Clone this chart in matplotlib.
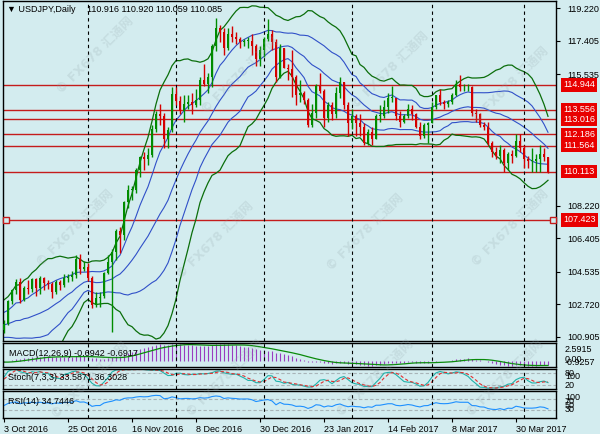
import numpy as np
import pandas as pd
import matplotlib
matplotlib.use('Agg')
import matplotlib.pyplot as plt
import matplotlib.transforms as mtransforms

plt.rcParams['font.family'] = ['Liberation Sans', 'DejaVu Sans']

# USDJPY daily bars, 3 Oct 2016 .. 11 Apr 2017 (one value per bar)
opens = [101.30, 101.65, 102.90, 103.50, 103.95, 102.95, 103.65, 103.55, 104.15, 103.65,
         104.20, 103.90, 103.85, 103.40, 103.95, 103.80, 104.20, 104.25, 104.35, 105.25,
         104.70, 104.80, 104.20, 102.70, 103.10, 103.20, 104.45, 105.10, 105.65, 106.80,
         106.60, 108.40, 109.10, 109.10, 110.20, 110.90, 110.80, 111.05, 112.50, 113.30,
         113.20, 111.90, 112.40, 114.45, 114.05, 113.50, 113.90, 114.00, 113.80, 114.10,
         115.20, 115.00, 115.40, 117.10, 118.10, 117.90, 117.00, 117.80, 117.60, 117.50,
         117.30, 117.40, 117.40, 117.10, 116.40, 116.90, 117.50, 117.80, 117.30, 115.40,
         117.00, 115.90, 115.80, 115.40, 114.40, 114.50, 114.10, 112.70, 113.40, 114.90,
         114.60, 113.10, 113.80, 113.30, 114.50, 115.10, 113.80, 112.80, 113.20, 112.80,
         112.60, 111.70, 112.30, 111.90, 113.20, 113.20, 113.70, 114.20, 114.20, 113.20,
         112.90, 113.20, 113.60, 113.30, 112.60, 112.10, 112.70, 112.80, 113.70, 114.40,
         114.00, 113.90, 114.00, 114.40, 115.00, 114.80, 114.80, 114.80, 113.40, 113.30,
         112.70, 112.60, 111.70, 111.20, 111.00, 111.30, 110.60, 111.10, 111.00, 111.80,
         111.40, 110.80, 110.70, 110.70, 110.80, 111.10, 110.916]
highs = [101.85, 102.95, 103.55, 104.15, 104.20, 103.75, 104.10, 104.20, 104.20, 104.30,
         104.25, 104.05, 103.95, 104.10, 104.05, 104.40, 104.40, 104.55, 105.45, 105.55,
         105.15, 105.00, 104.30, 103.40, 103.40, 104.50, 105.45, 105.80, 106.90, 107.00,
         108.50, 109.35, 109.30, 110.30, 111.00, 111.20, 111.40, 112.70, 113.50, 113.90,
         113.40, 112.60, 114.80, 114.80, 114.30, 114.40, 114.40, 114.50, 114.70, 115.40,
         116.10, 115.60, 117.20, 118.65, 118.30, 118.10, 118.10, 118.20, 117.90, 117.60,
         117.50, 117.60, 117.80, 117.20, 117.10, 117.60, 118.60, 118.00, 117.50, 117.20,
         117.00, 116.10, 116.90, 115.50, 115.20, 114.60, 114.20, 113.90, 115.00, 115.60,
         114.70, 114.00, 114.00, 114.80, 115.40, 115.10, 114.00, 113.60, 113.30, 113.30,
         112.80, 112.50, 112.60, 113.30, 113.80, 114.10, 114.50, 114.90, 114.20, 113.50,
         113.30, 113.90, 113.80, 113.40, 112.90, 112.80, 112.90, 114.00, 114.40, 114.70,
         114.10, 114.10, 114.50, 115.20, 115.50, 115.00, 115.00, 114.90, 113.60, 113.40,
         112.90, 112.90, 111.80, 111.50, 111.60, 111.40, 111.20, 111.30, 112.20, 112.20,
         111.60, 111.00, 111.40, 111.10, 111.60, 111.40, 110.920]
lows = [101.10, 101.55, 102.75, 103.30, 102.80, 102.90, 103.30, 103.40, 103.20, 103.30,
        103.50, 103.55, 103.10, 103.30, 103.50, 103.70, 103.95, 104.00, 104.20, 104.40,
        104.60, 104.00, 102.50, 102.55, 102.60, 103.10, 104.40, 101.20, 105.20, 105.60,
        106.30, 108.10, 108.55, 108.90, 109.80, 110.20, 110.50, 110.90, 112.30, 112.70,
        111.40, 111.40, 112.30, 113.80, 113.30, 112.90, 113.60, 113.30, 113.70, 113.80,
        114.90, 114.50, 114.80, 116.80, 117.30, 116.60, 116.90, 117.30, 117.20, 117.00,
        117.10, 117.00, 116.60, 116.00, 116.00, 116.50, 117.40, 116.90, 115.10, 115.30,
        115.90, 115.20, 114.25, 113.80, 114.00, 113.90, 112.60, 112.60, 113.10, 114.50,
        112.60, 112.90, 113.00, 113.10, 114.20, 113.60, 112.10, 112.50, 112.10, 112.10,
        111.60, 111.60, 111.60, 111.90, 112.90, 113.10, 113.40, 114.00, 113.00, 112.60,
        112.80, 113.10, 113.00, 112.55, 111.90, 112.00, 111.70, 112.80, 113.60, 113.80,
        113.60, 113.70, 113.90, 114.30, 114.60, 114.60, 114.60, 113.20, 112.90, 112.60,
        112.40, 111.60, 110.90, 110.80, 110.60, 110.10, 110.20, 110.60, 110.90, 111.20,
        110.30, 110.30, 110.10, 110.10, 110.10, 110.70, 110.059]
closes = [101.65, 102.90, 103.50, 103.95, 102.95, 103.65, 103.55, 104.15, 103.65, 104.20,
          103.90, 103.85, 103.40, 103.95, 103.80, 104.20, 104.25, 104.35, 105.25, 104.70,
          104.80, 104.20, 102.70, 103.10, 103.10, 104.45, 105.10, 105.65, 106.80, 106.60,
          108.40, 109.10, 109.10, 110.20, 110.90, 110.80, 111.05, 112.50, 113.30, 113.20,
          111.90, 112.40, 114.45, 114.05, 113.50, 113.90, 114.00, 113.80, 114.10, 115.20,
          115.00, 115.40, 117.10, 118.10, 117.90, 117.00, 117.80, 117.60, 117.50, 117.30,
          117.40, 117.40, 117.10, 116.40, 116.90, 117.50, 117.80, 117.30, 115.40, 117.00,
          115.90, 115.80, 115.40, 114.40, 114.50, 114.10, 112.70, 113.40, 114.90, 114.60,
          113.10, 113.80, 113.30, 114.50, 115.10, 113.80, 112.80, 113.20, 112.80, 112.60,
          111.70, 112.30, 111.90, 113.20, 113.20, 113.70, 114.20, 114.20, 113.20, 112.90,
          113.20, 113.60, 113.30, 112.60, 112.10, 112.70, 112.80, 113.70, 114.40, 114.00,
          113.90, 114.00, 114.40, 115.00, 114.80, 114.80, 114.80, 113.40, 113.30, 112.70,
          112.60, 111.70, 111.20, 111.00, 111.30, 110.60, 111.10, 111.00, 111.80, 111.40,
          110.80, 110.70, 110.70, 110.80, 111.10, 110.90, 110.085]

# earlier history, only used to warm up the indicators
aug_closes = [102.30, 100.80, 101.20, 101.20, 101.80, 102.50, 101.90, 101.30, 101.90, 101.30,
              101.20, 100.30, 100.30, 99.90, 100.20, 100.70, 100.20, 100.50, 100.50, 101.80,
              101.90, 102.00, 103.40]
sep_highs = [103.50, 104.30, 104.00, 103.50, 102.00, 102.20, 103.00, 102.70, 102.80, 102.80,
             102.50, 102.40, 102.20, 101.90, 102.80, 100.90, 101.20, 101.00, 100.80, 101.80,
             101.80, 101.60]
sep_lows = [102.80, 102.90, 103.20, 101.50, 101.20, 101.50, 101.90, 101.70, 101.90, 102.00,
            101.80, 101.90, 101.50, 101.50, 100.30, 100.10, 100.50, 100.10, 100.10, 100.20,
            100.90, 100.70]
sep_closes = [103.30, 104.00, 103.40, 101.70, 101.80, 102.10, 102.70, 101.80, 102.70, 102.40,
              102.00, 102.30, 101.70, 101.70, 100.30, 100.80, 101.00, 100.30, 100.70, 101.60,
              101.00, 101.30]

month_starts = [21, 43, 65, 87, 107, 130]
date_ticks = [0, 16, 32, 48, 64, 80, 96, 112, 128]
date_labels = ['3 Oct 2016', '25 Oct 2016', '16 Nov 2016', '8 Dec 2016', '30 Dec 2016',
               '23 Jan 2017', '14 Feb 2017', '8 Mar 2017', '30 Mar 2017']
price_ticks = [119.220, 117.405, 115.535, 108.220, 106.405, 104.535, 102.720, 100.905]
levels = [114.944, 113.556, 113.016, 112.186, 111.564, 110.113, 107.423]

BG = '#d3ecef'
BULL = '#008c00'
BEAR = '#d40000'
BB_GREEN = '#0b6e0b'
BB_BLUE = '#3050c8'
LEVEL_RED = '#c41c1c'
LABEL_RED = '#e80000'

# ---- indicators (computed over warm-up + visible bars, then trimmed)
n_pre = len(aug_closes) + len(sep_closes)
c_all = pd.Series(aug_closes + sep_closes + closes)
h_all = pd.Series([np.nan] * len(aug_closes) + sep_highs + highs)
l_all = pd.Series([np.nan] * len(aug_closes) + sep_lows + lows)

ma20 = c_all.rolling(20).mean()
sd20 = c_all.rolling(20).std(ddof=0)

ema12 = c_all.ewm(span=12, adjust=False).mean()
ema26 = c_all.ewm(span=26, adjust=False).mean()
macd = ema12 - ema26
macd_sig = macd.rolling(9).mean()

ll = l_all.rolling(7).min()
hh = h_all.rolling(7).max()
stoch_main = 100 * (c_all - ll).rolling(3).sum() / (hh - ll).rolling(3).sum()
stoch_sig = stoch_main.rolling(3).mean()

delta = c_all.diff()
gain = delta.clip(lower=0).ewm(alpha=1 / 14, adjust=False).mean()
loss = (-delta.clip(upper=0)).ewm(alpha=1 / 14, adjust=False).mean()
rsi = 100 - 100 / (1 + gain / loss)

def visible(s):
    return s.iloc[n_pre:].to_numpy()

idx = np.arange(len(closes))
o = np.array(opens)
h = np.array(highs)
l = np.array(lows)
c = np.array(closes)

# ---- figure, panels placed in pixels
W, H = 600, 434
fig = plt.figure(figsize=(W / 100, H / 100), dpi=100, facecolor=BG)

def px_axes(x0, y0, x1, y1):
    a = fig.add_axes([x0 / W, 1 - y1 / H, (x1 - x0) / W, (y1 - y0) / H])
    a.set_facecolor(BG)
    for sp in a.spines.values():
        sp.set_color('black')
        sp.set_linewidth(1)
    a.set_xlim(-0.25, 138)
    return a

def fig_text(x, y, s, **kw):
    fig.text(x / W, 1 - y / H, s, va='center', ha='left', fontsize=6.5, **kw)

ax = px_axes(3, 1, 556, 341)
ax_m = px_axes(3, 343, 556, 367)
ax_s = px_axes(3, 369, 556, 389)
ax_r = px_axes(3, 391, 556, 418)

# main price panel
ax.set_ylim(100.68, 119.61)
for lvl in levels:
    ax.axhline(lvl, color=LEVEL_RED, lw=1, zorder=1)

ax.plot(idx, visible(ma20 + 2 * sd20), color=BB_GREEN, lw=0.9, zorder=2)
ax.plot(idx, visible(ma20 - 2 * sd20), color=BB_GREEN, lw=0.9, zorder=2)
ax.plot(idx, visible(ma20 + sd20), color=BB_BLUE, lw=0.8, zorder=2)
ax.plot(idx, visible(ma20), color=BB_BLUE, lw=0.8, zorder=2)
ax.plot(idx, visible(ma20 - sd20), color=BB_BLUE, lw=0.8, zorder=2)

cols = np.where(c >= o, BULL, BEAR)
ax.vlines(idx, l, h, colors=cols, lw=1, zorder=3)
body = np.maximum(np.abs(c - o), 0.04)
ax.bar(idx, body, bottom=np.minimum(o, c), width=0.72, color=cols, lw=0, zorder=4)

blend = mtransforms.blended_transform_factory(ax.transAxes, ax.transData)
ax.plot([0.006, 0.994], [levels[-1]] * 2, transform=blend, ls='none', marker='s',
        ms=4, mfc=BG, mec=LEVEL_RED, mew=1, zorder=5, clip_on=False)

ax.set_xticks([])
ax.yaxis.tick_right()
ax.set_yticks(price_ticks)
ax.set_yticklabels([f'{p:.3f}' for p in price_ticks])
ax.tick_params(axis='y', length=3, width=0.8, pad=5, labelsize=6.5, colors='black')

for lvl in levels:
    ax.text(1 + 7 / 553, lvl, f'{lvl:.3f}', transform=blend, ha='left', va='center',
            color='white', fontsize=6.5, zorder=6, clip_on=False,
            bbox=dict(boxstyle='square,pad=0.25', fc=LABEL_RED, ec='none'))

fig_text(7, 10, '\u25bc USDJPY,Daily', color='black')
fig_text(87, 10, '110.916 110.920 110.059 110.085', color='black')

# MACD panel
ax_m.set_ylim(-0.9257, 2.5915)
ax_m.vlines(idx, 0, visible(macd), colors='#9a3cc0', lw=0.8)
ax_m.plot(idx, visible(macd_sig), color='#0a8a0a', lw=0.9)
fig_text(9, 354, 'MACD(12,26,9) -0.6942 -0.6917')
fig_text(565, 350, '2.5915')
fig_text(565, 360, '0.00')
fig_text(565, 362.5, '-0.9257')

# Stochastic panel
ax_s.set_ylim(0, 100)
for lv in (20, 80):
    ax_s.axhline(lv, color='#a8b4b8', lw=0.8, ls=(0, (3, 2)))
ax_s.plot(idx, visible(stoch_main), color='#20b2aa', lw=0.8)
ax_s.plot(idx, visible(stoch_sig), color='#e03030', lw=0.8, ls=(0, (3, 2)))
fig_text(8, 378, 'Stoch(7,3,3) 33.5871 36.3028')
fig_text(565, 373.5, '80')
fig_text(565, 376.5, '100')
fig_text(565, 385, '20')

# RSI panel
ax_r.set_ylim(0, 100)
for lv in (30, 70):
    ax_r.axhline(lv, color='#a8b4b8', lw=0.8, ls=(0, (3, 2)))
ax_r.plot(idx, visible(rsi), color='#1e90ff', lw=0.8)
fig_text(8, 401, 'RSI(14) 34.7446')
fig_text(565, 397, '100')
fig_text(565, 401, '70')
fig_text(565, 405, '50')
fig_text(565, 409, '30')

for a in (ax, ax_m, ax_s, ax_r):
    for m in month_starts:
        a.axvline(m, color='black', lw=0.8, ls=(0, (3, 3)), zorder=2.5)
for a in (ax_m, ax_s, ax_r):
    a.set_yticks([])
    a.set_xticks([])

ax_r.set_xticks(date_ticks)
ax_r.set_xticklabels(date_labels)
ax_r.tick_params(axis='x', length=3, width=0.8, pad=2, labelsize=6.5, colors='black')
for lbl in ax_r.get_xticklabels():
    lbl.set_horizontalalignment('left')

# FX678 watermarks
marks = [(95, 55), (240, 75), (390, 70), (510, 85),
         (75, 228), (215, 240), (365, 232), (510, 228),
         (90, 380), (225, 378), (375, 378), (505, 378)]
for mx, my in marks:
    fig.text(mx / W, 1 - my / H, '\u00a9 FX678 \u6c47\u901a\u7f51', rotation=45,
             ha='center', va='center', fontsize=9, fontweight='bold', color='#8fa0a6',
             alpha=0.2, family=['DejaVu Sans', 'Noto Sans CJK SC'])

fig.savefig('out.png', dpi=100, facecolor=BG)
